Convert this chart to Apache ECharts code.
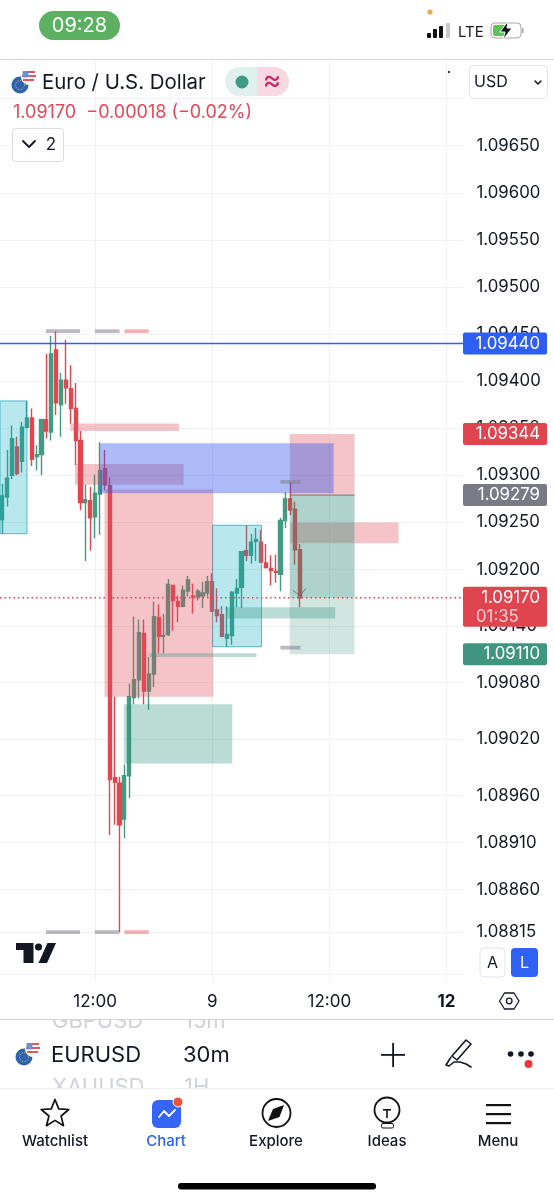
<!DOCTYPE html>
<html>
<head>
<meta charset="utf-8">
<title>EURUSD 30m</title>
<script src="https://cdn.jsdelivr.net/npm/echarts@6/dist/echarts.min.js"></script>
<style>
html,body{margin:0;padding:0;background:#fff;}
#main{width:554px;height:1200px;}
</style>
</head>
<body>
<div id="main"></div>
<script>
// 30m bars
var categories = ['02:30','03:00','03:30','04:00','04:30','05:00','05:30','06:00','06:30','07:00','07:30','08:00','08:30','09:00','09:30','10:00','10:30','11:00','11:30',
	'12:00','12:30','13:00','13:30','14:00','14:30','15:00','15:30','16:00','16:30','17:00','17:30','18:00','18:30','19:00','19:30','20:00','20:30','21:00','21:30','22:00','22:30','23:00','23:30',
	'9','00:30','01:00','01:30','02:00','02:30','03:00','03:30','04:00','04:30','05:00','05:30','06:00','06:30','07:00','07:30','08:00','08:30','09:00','09:30','10:00','10:30','11:00','11:30',
	'12:00','12:30','13:00','13:30','14:00','14:30','15:00','15:30','16:00','16:30','17:00','17:30','18:00','18:30','19:00','19:30','20:00','20:30','21:00','21:30','22:00','22:30','23:00','23:30',
	'12','00:30','01:00','01:30'];
var opens = [1.09253,1.09277,1.09300,1.09330,1.09315,1.09351,1.09361,1.09320,1.09322,1.09359,1.09346,1.09433,1.09375,1.09401,1.09392,1.09371,1.09337,1.09271,1.09273,1.09256,1.09280,1.09307,1.09289,
	1.08979,1.08973,1.08935,1.08981,1.09064,1.09083,1.09132,1.09071,1.09089,1.09149,1.09129,1.09131,1.09183,1.09166,1.09161,1.09177,1.09172,1.09171,1.09172,1.09175,1.09187,1.09157,1.09152,
	1.09127,1.09130,1.09175,1.09181,1.09220,1.09215,1.09230,1.09229,1.09207,1.09201,1.09198,1.09195,1.09252,1.09275,1.09264,1.09221];
var closes = [1.09278,1.09297,1.09339,1.09302,1.09351,1.09361,1.09317,1.09322,1.09359,1.09347,1.09429,1.09377,1.09401,1.09393,1.09371,1.09337,1.09271,1.09274,1.09255,1.09281,1.09305,1.09290,1.08977,
	1.08974,1.08929,1.08981,1.09065,1.09083,1.09133,1.09071,1.09089,1.09150,1.09129,1.09130,1.09184,1.09167,1.09161,1.09178,1.09189,1.09171,1.09177,1.09175,1.09187,1.09156,1.09151,1.09129,
	1.09131,1.09176,1.09180,1.09219,1.09215,1.09229,1.09232,1.09208,1.09202,1.09199,1.09197,1.09252,1.09275,1.09263,1.09221,1.09170];
var lows = [1.09238,1.09267,1.09296,1.09300,1.09303,1.09350,1.09310,1.09305,1.09300,1.09339,1.09337,1.09364,1.09341,1.09376,1.09355,1.09311,1.09263,1.09209,1.09220,1.09233,1.09237,1.09284,1.08918,
	1.08929,1.08815,1.08915,1.08957,1.09057,1.09063,1.09057,1.09051,1.09075,1.09111,1.09111,1.09129,1.09135,1.09144,1.09160,1.09171,1.09153,1.09167,1.09159,1.09171,1.09155,1.09144,1.09128,
	1.09118,1.09120,1.09160,1.09159,1.09209,1.09206,1.09209,1.09207,1.09201,1.09183,1.09186,1.09177,1.09244,1.09258,1.09205,1.09160];
var highs = [1.09291,1.09327,1.09353,1.09341,1.09357,1.09379,1.09371,1.09332,1.09360,1.09429,1.09448,1.09453,1.09409,1.09444,1.09417,1.09398,1.09347,1.09290,1.09288,1.09301,1.09335,1.09327,1.09298,
	1.09065,1.08980,1.08993,1.09079,1.09150,1.09147,1.09147,1.09107,1.09166,1.09163,1.09153,1.09190,1.09183,1.09172,1.09183,1.09193,1.09185,1.09179,1.09187,1.09193,1.09196,1.09180,1.09161,
	1.09161,1.09177,1.09190,1.09219,1.09247,1.09238,1.09244,1.09242,1.09227,1.09215,1.09216,1.09255,1.09282,1.09293,1.09272,1.09227];

var timeTicks = [19, 43, 67, 91];
var priceLabels = [1.0965,1.096,1.0955,1.095,1.0945,1.094,1.0935,1.093,1.0925,1.092,1.0914,1.0908,1.0902,1.0896,1.0891,1.0886,1.08815];
var priceLines = [1.097,1.0965,1.096,1.0955,1.095,1.0945,1.094,1.0935,1.093,1.0925,1.092,1.0914,1.0908,1.0902,1.0896,1.0891,1.0886,1.08815,1.0877];

// drawings: [first bar, last bar, upper price, lower price]
var pinkZones = [[20.92,43.21,1.09285,1.09065],[14.85,37.14,1.09312,1.09290],[13.89,36.18,1.09355,1.09347],[58.88,72.17,1.09344,1.09279],[59.02,81.17,1.09250,1.09228]];
var blueZones = [[20.02,67.87,1.09334,1.09281]];
var cyanZones = [[-0.5,5.03,1.09379,1.09238],[43.07,53.09,1.09247,1.09118]];
var greenZones = [[45.93,68.22,1.09160,1.09148],[30.04,52.07,1.09111,1.09107],[24.93,47.10,1.09057,1.08994]];
var profitDark = [[58.88,72.17,1.09279,1.09170]];
var profitLight = [[58.88,72.17,1.09170,1.09110]];
var greyMarks = [[8.92,15.93,1.09455,1.09451],[18.94,23.99,1.09455,1.09451],[8.92,15.93,1.08817,1.08813],[18.94,23.99,1.08817,1.08813],[56.97,61.06,1.09295,1.09291],[56.97,61.06,1.09119,1.09115]];
var pinkMarks = [[25.01,29.98,1.09455,1.09451],[25.01,29.98,1.08817,1.08813]];
var entryArrow = [[59.5,1.09178],[61,1.09172],[62.2,1.09180]];
var topEdge = [[58.88,1.09279],[72.17,1.09279]];

var tagPrices = [1.0944, 1.09344, 1.09279, 1.0917, 1.0911];
var tagCountdown = '01:35';
var lastPrice = 1.0917;
var alertPrice = 1.0944;

var FONT = 'Inter, "Noto Sans", sans-serif';
var INK = '#131722';
var UP = '#459a82';
var DOWN = '#e2474f';
var TAG_COLORS = ['#2f5ff2', '#e0454f', '#787b86', '#e0454f', '#3f9580'];

var candles = [];
for (var i = 0; i < opens.length; i++) {
	candles.push([opens[i], closes[i], lows[i], highs[i]]);
}

function zoneSeries(list, fill, stroke) {
	return {
		type: 'custom',
		xAxisIndex: 1,
		yAxisIndex: 0,
		z: 4,
		silent: true,
		data: list,
		encode: {x: [0, 1], y: [2, 3]},
		renderItem: function (params, api) {
			var a = api.coord([api.value(0), api.value(2)]);
			var b = api.coord([api.value(1), api.value(3)]);
			return {
				type: 'rect',
				shape: {x: a[0], y: a[1], width: b[0] - a[0], height: b[1] - a[1]},
				style: {fill: fill, stroke: stroke || null, lineWidth: stroke ? 1 : 0}
			};
		}
	};
}

function lineSeries(points, color, width, dash) {
	return {
		type: 'line',
		xAxisIndex: 1,
		yAxisIndex: 0,
		z: 5,
		silent: true,
		symbol: 'none',
		animation: false,
		lineStyle: {color: color, width: width, type: dash || 'solid'},
		data: points
	};
}

var tagSeries = {
	type: 'custom',
	xAxisIndex: 1,
	yAxisIndex: 0,
	z: 10,
	silent: true,
	clip: false,
	data: tagPrices.map(function (p) { return [94.5, p]; }),
	encode: {x: 0, y: 1},
	renderItem: function (params, api) {
		var c = api.coord([api.value(0), api.value(1)]);
		var hasTimer = api.value(1) === lastPrice;
		var kids = [{
			type: 'rect',
			shape: {x: 463, y: c[1] - 11, width: 84, height: hasTimer ? 40 : 22, r: 2},
			style: {fill: TAG_COLORS[params.dataIndex]}
		}, {
			type: 'text',
			style: {x: 540, y: c[1], text: api.value(1).toFixed(5), fill: '#fff', font: '16.8px ' + FONT, align: 'right', verticalAlign: 'middle'}
		}];
		if (hasTimer) {
			kids.push({
				type: 'text',
				style: {x: 476, y: c[1] + 19, text: tagCountdown, fill: '#fbd0d3', font: '16.8px ' + FONT, align: 'left', verticalAlign: 'middle'}
			});
		}
		return {type: 'group', children: kids};
	}
};

// screen furniture around the chart
function txt(x, y, text, size, color, align, weight) {
	return {type: 'text', x: x, y: y, z: 30, silent: true, style: {
		text: text, fill: color, font: (weight || 'normal') + ' ' + size + 'px ' + FONT, align: align || 'left', verticalAlign: 'middle'
	}};
}
function rect(x, y, w, h, fill, stroke, r) {
	return {type: 'rect', z: 30, silent: true, shape: {x: x, y: y, width: w, height: h, r: r || 0},
		style: {fill: fill || 'none', stroke: stroke || null, lineWidth: stroke ? 1 : 0}};
}
function dot(x, y, r, fill, stroke, width) {
	return {type: 'circle', z: 30, silent: true, shape: {cx: x, cy: y, r: r},
		style: {fill: fill || 'none', stroke: stroke || null, lineWidth: width || 0}};
}
function stroke(points, color, width) {
	return {type: 'polyline', z: 30, silent: true, shape: {points: points},
		style: {fill: 'none', stroke: color, lineWidth: width, lineCap: 'round', lineJoin: 'round'}};
}
function poly(points, fill, color, width) {
	return {type: 'polygon', z: 30, silent: true, shape: {points: points},
		style: {fill: fill || 'none', stroke: color || null, lineWidth: width || 0, lineJoin: 'round'}};
}
function flag(cx, cy) {
	var us = [cx + 9, cy - 8];
	return [
		dot(cx, cy, 8.5, '#2f62b5'),
		{type: 'circle', z: 30, silent: true, shape: {cx: cx, cy: cy, r: 4.5}, style: {fill: 'none', stroke: '#e6d66a', lineWidth: 1, lineDash: [1, 1.6]}},
		dot(us[0], us[1], 7.5, '#fff', '#fff', 1),
		rect(us[0] - 6, us[1] - 6, 12, 2, '#e0565a'),
		rect(us[0] - 7, us[1] - 2, 14, 2, '#e0565a'),
		rect(us[0] - 6, us[1] + 2, 11, 2, '#e0565a'),
		rect(us[0] - 6.5, us[1] - 6, 6, 6.5, '#6f8fd0', null, 1)
	];
}
function starPoints(cx, cy, R, r) {
	var pts = [];
	for (var n = 0; n < 10; n++) {
		var a = -Math.PI / 2 + n * Math.PI / 5;
		var d = n % 2 ? r : R;
		pts.push([cx + d * Math.cos(a), cy + d * Math.sin(a)]);
	}
	return pts;
}

var chrome = [
	// status bar
	rect(39, 11, 81, 29, '#5bb062', null, 14.5),
	txt(79.5, 26, '09:28', 20, '#fff', 'center'),
	dot(430, 12, 2.6, '#eeaa4e'),
	rect(427, 33, 4, 5, '#111', null, 1), rect(433, 29, 4, 9, '#111', null, 1), rect(439, 26, 4, 12, '#111', null, 1), rect(446, 23, 4, 15, '#c9c9c9', null, 1),
	txt(458, 32, 'LTE', 15, '#1a1a1a'),
	rect(491, 23, 30, 15, '#fff', '#a8a8a8', 4), rect(493, 25, 14, 11, '#62c25a', null, 2), rect(522, 28, 1.5, 5, '#a8a8a8'),
	poly([[508, 21], [500, 32], [505, 32], [503, 40], [512, 28], [507, 28]], '#111', '#fff', 1),
	// top of the chart
	rect(0, 59, 554, 1, '#d8d8da'),
	txt(42, 82.5, 'Euro / U.S. Dollar', 20.4, INK),
	rect(225, 67, 32, 29, '#e0f0ee', null, [14.5, 0, 0, 14.5]),
	rect(257, 67, 32, 29, '#f8d9e2', null, [0, 14.5, 14.5, 0]),
	dot(242, 82, 6.5, '#3f9a86'),
	txt(272, 81, '≈', 28, '#c72a66', 'center'),
	txt(13, 112.5, '1.09170  −0.00018 (−0.02%)', 18, '#e0495a'),
	rect(12.5, 128.5, 51, 33, '#fff', '#d9dbe0', 3),
	stroke([[23, 141], [29, 147], [35, 141]], INK, 1.8),
	txt(51, 145, '2', 17, INK, 'center'),
	dot(449, 72, 1.1, '#111'),
	rect(469.5, 65.5, 78, 33, '#fff', '#e3e5ea', 4),
	txt(474, 82, 'USD', 16, INK),
	stroke([[535, 81], [538, 84], [541, 81]], INK, 1.5),
	// bottom of the chart
	poly([[16, 943], [33.5, 943], [33.5, 963], [23.5, 963], [23.5, 950], [16, 950]], '#131722'),
	dot(38.5, 947, 3.6, '#131722'),
	poly([[47.5, 943], [56, 943], [47, 963], [38.5, 963]], '#131722'),
	rect(480, 948, 25, 29, '#fff', '#e0e3eb', 4),
	txt(492.5, 963, 'A', 16, INK, 'center'),
	rect(511, 948, 27, 29, '#2f62f2', null, 4),
	txt(524.5, 963, 'L', 16, '#fff', 'center'),
	poly([[499.5, 1001], [504.5, 993], [514, 993], [519, 1001], [514, 1009], [504.5, 1009]], null, INK, 1.3),
	dot(509.2, 1001, 2.8, null, INK, 1.3),
	// symbol picker, the two faded rows are cut by the row edges
	txt(52, 1021.5, 'GBPUSD', 22, '#cfd2d7'),
	txt(184, 1021.5, '15m', 22, '#cfd2d7'),
	txt(52, 1087.5, 'XAUUSD', 22, '#cfd2d7'),
	txt(184, 1087.5, '1H', 22, '#cfd2d7'),
	rect(0, 1010, 554, 9, '#fff'),
	rect(0, 1019, 554, 1, '#d4d4d6'),
	rect(0, 1088, 554, 10, '#fff'),
	rect(0, 1088, 554, 1, '#eeeeee'),
	txt(51, 1055, 'EURUSD', 22, INK),
	txt(183, 1055, '30m', 22, INK),
	rect(381, 1054, 24, 1.8, INK), rect(392.2, 1043, 1.8, 24, INK),
	poly([[452, 1056], [466, 1040], [471, 1044], [457, 1060]], null, INK, 1.6),
	stroke([[451, 1057], [446, 1065], [449, 1066], [454, 1062], [460, 1062], [466, 1064], [471, 1067]], INK, 1.6),
	dot(510.5, 1054, 2.8, '#131722'), dot(521, 1054, 2.8, '#131722'), dot(531, 1054, 2.8, '#131722'),
	dot(528.5, 1064, 4, '#e5383f'),
	// tab bar
	poly(starPoints(55, 1114, 14.5, 6.4), null, '#111', 1.7),
	rect(152, 1100, 29, 28, '#3565f5', null, 6),
	stroke([[159, 1117], [164, 1111], [169, 1116], [175, 1110]], '#fff', 1.8),
	dot(178, 1102, 5, '#e8533c', '#fff', 1),
	dot(276.5, 1113, 14, null, '#111', 1.8),
	poly([[284, 1105], [279.5, 1117], [268, 1121], [273, 1109]], '#111'),
	dot(387, 1110, 12.5, null, '#111', 1.8),
	rect(383, 1109, 8, 1.6, '#111'), rect(386.2, 1109, 1.6, 9, '#111'),
	rect(381.5, 1123.5, 12, 4.5, '#fff', '#111', 1.5),
	rect(486, 1104, 25, 2.2, '#111'), rect(486, 1113, 25, 2.2, '#111'), rect(486, 1122, 25, 2.2, '#111'),
	txt(55, 1141, 'Watchlist', 15, '#131722', 'center', '500'),
	txt(166, 1141, 'Chart', 15, '#2f62f2', 'center', '500'),
	txt(276, 1141, 'Explore', 15, '#131722', 'center', '500'),
	txt(387, 1141, 'Ideas', 15, '#131722', 'center', '500'),
	txt(498, 1141, 'Menu', 15, '#131722', 'center', '500'),
	rect(178, 1183, 198, 6.5, '#000', null, 3)
].concat(flag(20, 85), flag(24, 1057));

var option = {
	animation: false,
	backgroundColor: '#fff',
	textStyle: {fontFamily: FONT},
	grid: {left: -1.05, top: 60, width: 464.55, height: 922},
	xAxis: [{
		type: 'category',
		data: categories,
		boundaryGap: true,
		axisLine: {show: false},
		axisTick: {show: false, alignWithLabel: true},
		axisLabel: {
			customValues: timeTicks,
			margin: 11,
			fontSize: 17,
			color: INK,
			fontFamily: FONT,
			formatter: function (value) {
				return value === '12' ? '{strong|12}' : value;
			},
			rich: {strong: {fontWeight: 'bold', fontSize: 17, color: INK, fontFamily: FONT}}
		},
		splitLine: {show: false}
	}, {
		// same span as the bars, the day and noon lines hang off this one
		type: 'value',
		min: -0.5,
		max: 94.5,
		axisLine: {show: false},
		axisLabel: {show: false},
		axisTick: {show: false, customValues: timeTicks},
		splitLine: {show: true, lineStyle: {color: '#eff1f4', width: 1}}
	}],
	yAxis: {
		type: 'value',
		position: 'right',
		min: 1.08762,
		max: 1.09741,
		axisLine: {show: false},
		axisTick: {show: false, customValues: priceLines},
		axisLabel: {
			customValues: priceLabels,
			margin: 13,
			fontSize: 16.8,
			color: INK,
			fontFamily: FONT,
			hideOverlap: false,
			showMinLabel: true,
			showMaxLabel: true,
			formatter: function (v) { return v.toFixed(5); }
		},
		splitLine: {show: true, lineStyle: {color: '#eff1f4', width: 1}}
	},
	series: [
		{
			type: 'candlestick',
			xAxisIndex: 0,
			yAxisIndex: 0,
			z: 3,
			silent: true,
			barWidth: 3.6,
			itemStyle: {color: UP, color0: DOWN, borderColor: UP, borderColor0: DOWN, borderWidth: 1.4},
			data: candles
		},
		zoneSeries(cyanZones, 'rgba(0,172,193,0.28)', 'rgba(40,165,185,0.75)'),
		zoneSeries(pinkZones, 'rgba(224,75,90,0.33)'),
		zoneSeries(blueZones, 'rgba(47,85,235,0.40)'),
		zoneSeries(greenZones, 'rgba(45,145,125,0.32)'),
		zoneSeries(profitDark, 'rgba(45,140,120,0.38)'),
		zoneSeries(profitLight, 'rgba(45,140,120,0.22)'),
		zoneSeries(greyMarks, 'rgba(130,130,140,0.55)'),
		zoneSeries(pinkMarks, 'rgba(235,110,115,0.55)'),
		lineSeries(topEdge, '#6d7b7b', 1),
		lineSeries(entryArrow, 'rgba(85,105,105,0.75)', 1),
		lineSeries([[-0.5, alertPrice], [94.5, alertPrice]], '#2f5ff2', 1.5),
		lineSeries([[-0.5, lastPrice], [94.5, lastPrice]], '#e0454f', 1.5, [1.5, 3]),
		tagSeries
	],
	graphic: chrome
};

var myChart = echarts.init(document.getElementById('main'));
myChart.setOption(option);
</script>
</body>
</html>
